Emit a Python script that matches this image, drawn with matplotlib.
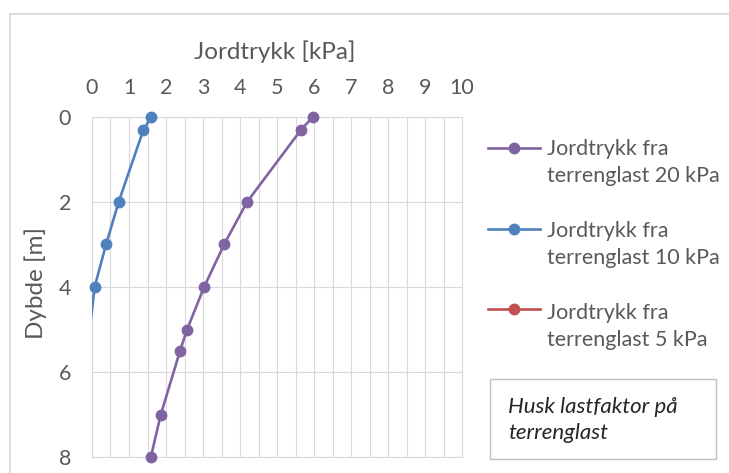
import matplotlib
matplotlib.use("Agg")
import matplotlib.pyplot as plt
from matplotlib.lines import Line2D
from matplotlib.patches import Rectangle
from matplotlib.ticker import MultipleLocator
import numpy as np

plt.rcParams['font.family'] = ['Lato', 'DejaVu Sans']

# Earth pressure [kPa] versus depth [m] for three surface loads
depth_20 = [0, 0.3, 2, 3, 4, 5, 5.5, 7, 8]
pressure_20 = [5.97, 5.65, 4.19, 3.57, 3.03, 2.57, 2.38, 1.86, 1.59]

depth_10 = [0, 0.3, 2, 3, 4, 5]
pressure_10 = [1.60, 1.39, 0.72, 0.38, 0.07, -0.06]

depth_5 = []
pressure_5 = []

series_labels = ["Jordtrykk fra\nterrenglast 20 kPa",
                 "Jordtrykk fra\nterrenglast 10 kPa",
                 "Jordtrykk fra\nterrenglast 5 kPa"]
series_colors = ["#8064A2", "#4F81BD", "#C0504D"]

x_ticks = list(range(0, 11))
y_ticks = [0, 2, 4, 6, 8]
x_title = "Jordtrykk [kPa]"
y_title = "Dybde [m]"
note_text = "Husk lastfaktor på\nterrenglast"

W, H = 729, 473
DPI = 100
fig = plt.figure(figsize=(W / DPI, H / DPI), dpi=DPI)


def fx(px):
    return px / W


def fy(py):
    return 1 - py / H


TXT = "#595959"
GRID = "#d9d9d9"
FS_TICK = 15.5
FS_TITLE = 17.5
FS_LEG = 15.5

# chart area border
fig.patches.append(Rectangle((fx(10), fy(490)), fx(760) - fx(10), fy(14) - fy(490),
                             transform=fig.transFigure, facecolor="none",
                             edgecolor=GRID, lw=1.3, zorder=-1))

ax = fig.add_axes([fx(92), fy(457), fx(462) - fx(92), fy(117) - fy(457)])
ax.set_xlim(x_ticks[0], x_ticks[-1])
ax.set_ylim(y_ticks[-1], y_ticks[0])
ax.set_xticks(x_ticks)
ax.set_yticks(y_ticks)
ax.xaxis.set_minor_locator(MultipleLocator(0.5))
ax.xaxis.tick_top()
ax.tick_params(axis="both", which="both", length=0, colors=TXT, labelsize=FS_TICK)
ax.tick_params(axis="x", pad=14)
ax.tick_params(axis="y", pad=15)
ax.grid(True, axis="x", which="both", color=GRID, lw=0.8)
ax.grid(True, axis="y", which="major", color=GRID, lw=0.8)
ax.set_axisbelow(True)
for s in ax.spines.values():
    s.set_color(GRID)
    s.set_linewidth(0.8)

ax.set_xlabel(x_title, fontsize=FS_TITLE, color=TXT)
ax.xaxis.set_label_position("top")
ax.xaxis.label.set_va("center")
ax.xaxis.set_label_coords((275 - 92) / 370, 1 + (117 - 52) / 340)
ax.set_ylabel(y_title, fontsize=FS_TITLE, color=TXT)
ax.yaxis.label.set_va("center")
ax.yaxis.set_label_coords((36 - 92) / 370, (457 - 283) / 340)

series = [(pressure_20, depth_20), (pressure_10, depth_10), (pressure_5, depth_5)]
x0, x1 = ax.get_xlim()
for (xs, ys), col in zip(series, series_colors):
    xs = np.asarray(xs, float)
    ys = np.asarray(ys, float)
    ax.plot(xs, ys, color=col, lw=1.9, solid_capstyle="round", zorder=3)
    inside = (xs >= x0) & (xs <= x1)
    ax.plot(xs[inside], ys[inside], "o", color=col, ms=7.5, clip_on=False, zorder=4)

# legend entries (text anchored on the baseline of the second line)
entry_y = [148, 229, 309]
text_base = [182, 264, 346]
for lab, col, py, tb in zip(series_labels, series_colors, entry_y, text_base):
    fig.add_artist(Line2D([fx(488), fx(540)], [fy(py), fy(py)], transform=fig.transFigure,
                          color=col, lw=1.9))
    fig.add_artist(Line2D([fx(514)], [fy(py)], transform=fig.transFigure, marker="o",
                          ms=7.5, color=col, lw=0))
    fig.text(fx(547), fy(tb), lab, color=TXT, fontsize=FS_LEG, va="baseline",
             ha="left", linespacing=1.45)

# note box
fig.patches.append(Rectangle((fx(490), fy(459)), fx(716) - fx(490), fy(379) - fy(459),
                             transform=fig.transFigure, facecolor="white",
                             edgecolor="#bfbfbf", lw=1.0))
fig.text(fx(508), fy(439), note_text, color="#262626", fontsize=16, style="italic",
         va="baseline", ha="left", linespacing=1.35)

fig.savefig("out.png", dpi=DPI)
